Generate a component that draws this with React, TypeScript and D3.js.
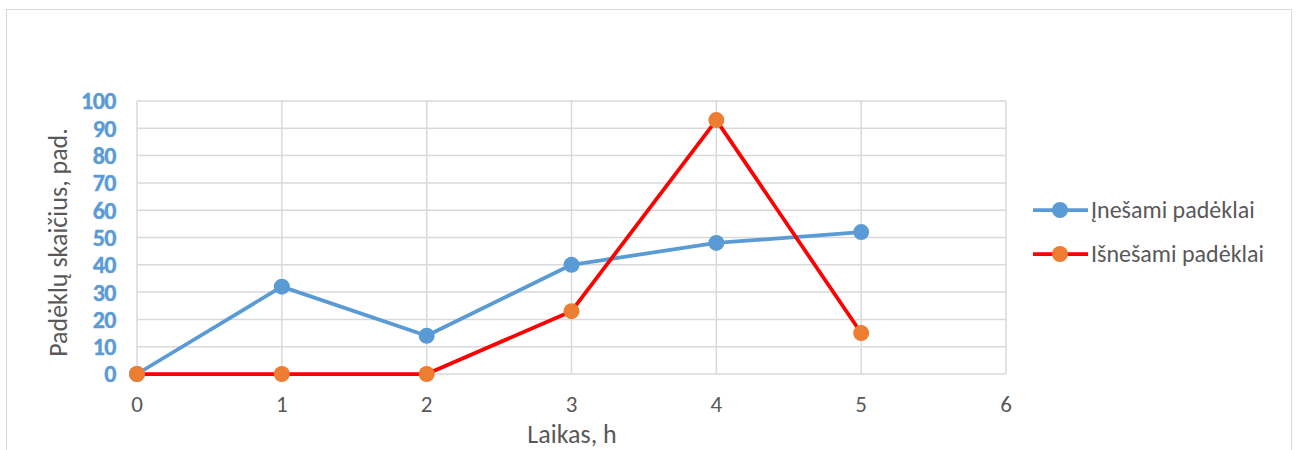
import React from "react";
import * as d3 from "d3";

const hours = [0, 1, 2, 3, 4, 5];
const inSeries = [0, 32, 14, 40, 48, 52];
const outSeries = [0, 0, 0, 23, 93, 15];
const xTicks = [0, 1, 2, 3, 4, 5, 6];
const yTicks = [0, 10, 20, 30, 40, 50, 60, 70, 80, 90, 100];
const seriesNames = ["Įnešami padėklai", "Išnešami padėklai"];

const W = 1299;
const H = 450;
const FONT = "Carlito, Calibri, Lato, 'Open Sans', sans-serif";

export default function App() {
  const x = d3.scaleLinear().domain([0, 6]).range([137, 1006]);
  const y = d3.scaleLinear().domain([0, 100]).range([374, 101]);
  const line = d3
    .line<number>()
    .x((_, i) => x(hours[i]))
    .y((d) => y(d));

  const blue = "#5b9bd5";
  const red = "#ff0000";
  const orange = "#ed7d31";
  const grid = "#d9d9d9";
  const text = "#595959";

  return (
    <svg
      width={W}
      height={H}
      style={{ position: "absolute", left: 0, top: 0, background: "#fff" }}
    >
      <rect x={6.5} y={9.5} width={1285} height={460} fill="#fff" stroke={grid} strokeWidth={1} />
      {yTicks.map((t) => (
        <line key={"h" + t} x1={x(0)} x2={x(6)} y1={y(t)} y2={y(t)} stroke={grid} strokeWidth={1.5} />
      ))}
      {xTicks.map((t) => (
        <line key={"v" + t} x1={x(t)} x2={x(t)} y1={y(0)} y2={y(100)} stroke={grid} strokeWidth={1.5} />
      ))}
      {yTicks.map((t) => (
        <text
          key={"yl" + t}
          x={116}
          y={y(t)}
          dy="0.35em"
          textAnchor="end"
          fill={blue}
          fontWeight="bold"
          fontSize={24}
          fontFamily={FONT}
          letterSpacing={-0.5}
          stroke={blue}
          strokeWidth={0.4}
        >
          {t}
        </text>
      ))}
      {xTicks.map((t) => (
        <text
          key={"xl" + t}
          x={x(t)}
          y={404}
          dy="0.35em"
          textAnchor="middle"
          fill={text}
          fontSize={23}
          fontFamily={FONT}
        >
          {t}
        </text>
      ))}
      <text x={572} y={434} dy="0.35em" textAnchor="middle" fill={text} fontSize={26} fontFamily={FONT}>
        Laikas, h
      </text>
      <text
        transform={`translate(58, ${(y(0) + y(100)) / 2 + 5}) rotate(-90)`}
        dy="0.35em"
        textAnchor="middle"
        fill={text}
        fontSize={26}
        fontFamily={FONT}
      >
        Padėklų skaičius, pad.
      </text>
      <path d={line(inSeries) || ""} fill="none" stroke={blue} strokeWidth={3.75} strokeLinejoin="round" />
      <path d={line(outSeries) || ""} fill="none" stroke={red} strokeWidth={3.75} strokeLinejoin="round" />
      {inSeries.map((v, i) => (
        <circle key={"bi" + i} cx={x(hours[i])} cy={y(v)} r={8} fill={blue} />
      ))}
      {outSeries.map((v, i) => (
        <circle key={"oi" + i} cx={x(hours[i])} cy={y(v)} r={8} fill={orange} />
      ))}
      {seriesNames.map((name, i) => {
        const ly = 210 + i * 44;
        const c = i === 0 ? blue : red;
        const mc = i === 0 ? blue : orange;
        return (
          <g key={name}>
            <line x1={1033} x2={1088} y1={ly} y2={ly} stroke={c} strokeWidth={3.75} />
            <circle cx={1060} cy={ly} r={8} fill={mc} />
            <text x={1091} y={ly} dy="0.35em" fill={text} fontSize={24} fontFamily={FONT}>
              {name}
            </text>
          </g>
        );
      })}
    </svg>
  );
}
